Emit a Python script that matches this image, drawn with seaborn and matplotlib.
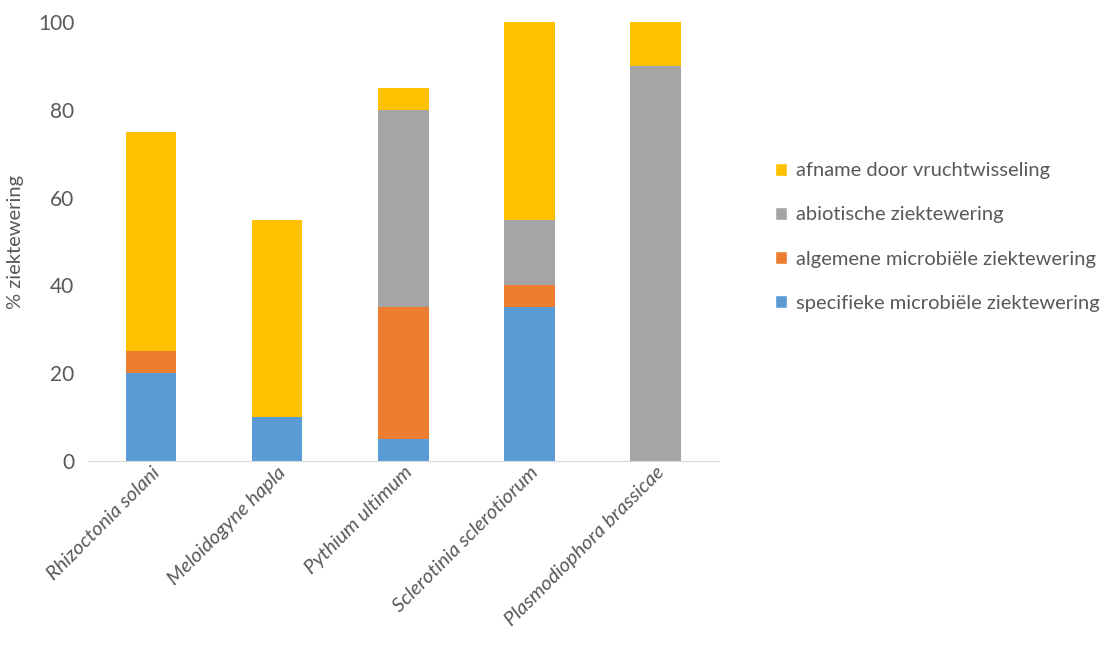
import numpy as np
import pandas as pd
import seaborn as sns
import matplotlib.pyplot as plt
from matplotlib.patches import Patch

# Data
organisms = ['Rhizoctonia solani', 'Meloidogyne hapla', 'Pythium ultimum',
             'Sclerotinia sclerotiorum', 'Plasmodiophora brassicae']
specifiek = [20, 10, 5, 35, 0]
algemeen = [5, 0, 30, 5, 0]
abiotisch = [0, 0, 45, 15, 90]
vruchtwisseling = [50, 45, 5, 45, 10]

labels = ['specifieke microbiële ziektewering',
          'algemene microbiële ziektewering',
          'abiotische ziektewering',
          'afname door vruchtwisseling']
colors = ['#5b9bd5', '#ed7d31', '#a5a5a5', '#ffc000']

df = pd.DataFrame({'organism': organisms,
                   labels[0]: specifiek,
                   labels[1]: algemeen,
                   labels[2]: abiotisch,
                   labels[3]: vruchtwisseling})

# cumulative sums so the bars can be drawn on top of each other
cum = df[labels].cumsum(axis=1)

sns.set_style('white')
plt.rcParams['font.family'] = ['Lato', 'DejaVu Sans']
text_col = '#595959'

fig = plt.figure(figsize=(11.02, 6.53), dpi=100)
ax = fig.add_axes([0.08, 0.294, 0.572, 0.672])

# draw the tallest stack first, then cover with the lower ones
for lab, col in reversed(list(zip(labels, colors))):
    sns.barplot(x=df['organism'], y=cum[lab], color=col, width=0.4,
                ax=ax, saturation=1, linewidth=0)

ax.set_ylim(0, 100)
ax.set_xlim(-0.5, len(organisms) - 0.5)
ax.set_yticks([0, 20, 40, 60, 80, 100])
ax.tick_params(axis='y', length=0, labelsize=15, colors=text_col, pad=10)
ax.set_ylabel('% ziektewering', fontsize=14.5, color=text_col, labelpad=10)
ax.set_xlabel('')

# category separators as tick marks
ax.set_xticks(np.arange(-0.5, len(organisms)), minor=True)
ax.tick_params(axis='x', which='minor', length=7, color='#d9d9d9', width=1)
ax.tick_params(axis='x', which='major', length=0, pad=2)
ax.set_xticks(range(len(organisms)))
ax.set_xticklabels(organisms, rotation=45, ha='right', rotation_mode='anchor',
                   fontsize=14.5, style='italic', color=text_col)

for s in ['top', 'right', 'left']:
    ax.spines[s].set_visible(False)
ax.spines['bottom'].set_color('#d9d9d9')

handles = [Patch(facecolor=c, label=l) for l, c in zip(labels, colors)][::-1]
leg = fig.legend(handles=handles, loc='center left', bbox_to_anchor=(0.687, 0.637),
                 frameon=False, fontsize=14.5, handlelength=0.6, handleheight=0.6,
                 handletextpad=0.45, labelspacing=1.35)
for t in leg.get_texts():
    t.set_color(text_col)

fig.savefig('out.png', dpi=100)
